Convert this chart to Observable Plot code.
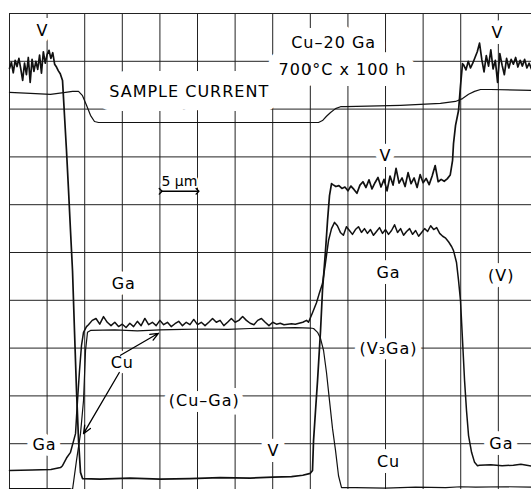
<!DOCTYPE html>
<html><head><meta charset="utf-8">
<script src="https://cdn.jsdelivr.net/npm/d3@7"></script>
<script src="https://cdn.jsdelivr.net/npm/@observablehq/plot@0.6"></script>
<style>html,body{margin:0;padding:0;background:#fff;} #chart{width:531px;height:489px;overflow:hidden}</style>
</head><body><div id="chart"></div>
<script>
// distance along scan (µm) and relative X-ray intensity (% of chart height)
const xGrid = [0,5,10,15,20,25,30,35,40,45,50,55,60,65];
const yGrid = [10,20,30,40,50,60,70,80,90,100];

const vProfile = [
 [0,88.5],[0.25,89.8],[0.5,87.6],[0.75,90.2],[1,88.9],[1.25,90.6],[1.5,88.4],[1.75,86.0],[2,89.6],[2.25,87.2],[2.5,90.8],[2.75,85.6],[3,90.4],[3.25,87.9],[3.5,90.0],[3.75,88.3],[4,91.3],[4.25,87.5],[4.5,92.0],[4.75,89.6],[5,91.4],[5.25,92.3],[5.5,90.6],[5.75,91.8],[6,89.4],[6.25,88.8],[6.5,88.0],[6.75,87.4],
 [7.05,86.0],[7.31,78.7],[7.58,71.3],[7.85,63.0],[8.11,54.6],[8.38,46.2],[8.64,33.7],[8.91,21.1],[9.18,10.7],[9.44,4.0],[9.71,2.7],
 [12,2.6],[16,2.8],[20,2.6],[24,2.7],[28,2.9],[32,2.8],[35,3.0],[37.5,3.1],[39,3.4],[40.0,3.8],
 [40.29,4.4],[40.43,10.7],[40.69,16.9],[40.96,23.2],[41.36,33.7],[41.62,42.1],[42.02,50.4],[42.29,56.7],[42.55,61.9],[42.82,64.4],
 [43.0,64.2],[43.4,63.8],[43.8,64.0],[44.2,63.4],[44.6,63.7],[45.0,62.9],[45.4,63.9],[45.8,63.2],[46.2,62.4],[46.6,64.1],[47.0,64.8],[47.4,63.6],[47.8,65.2],[48.2,63.3],[48.6,64.6],[49.0,65.7],[49.4,63.7],[49.8,65.3],[50.2,62.9],[50.6,66.0],[51.0,64.1],[51.4,67.6],[51.8,64.5],[52.2,65.6],[52.6,63.8],[53.0,66.7],[53.4,64.4],[53.8,65.6],[54.2,63.6],[54.6,66.3],[55.0,64.6],[55.4,65.5],[55.8,64.2],[56.2,66.0],[56.6,68.2],[57.0,64.8],[57.4,65.3],[57.8,64.9],[58.2,65.4],[58.6,66.2],
 [58.91,69.2],[59.04,72.8],[59.31,76.6],[59.71,79.7],[59.97,84.9],[60.24,89.5],
 [60.4,89.2],[60.7,88.2],[61.0,90.0],[61.3,88.6],[61.6,89.6],[61.9,90.8],[62.2,92.0],[62.5,93.8],[62.8,90.4],[63.1,87.8],[63.4,91.2],[63.7,89.0],[64.0,92.4],[64.3,88.4],[64.6,90.2],[64.9,85.6],[65.2,91.6],[65.5,89.2],[65.8,87.2],[66.1,90.6],[66.4,88.6],[66.7,90.4],[67.0,89.4],[67.3,90.8],[67.6,88.8],[67.9,90.2],[68.2,89.0],[68.5,90.4],[68.8,88.6],[69.1,89.6],[69.4,88.4]
];

const gaProfile = [
 [0,4.4],[3,4.5],[5.5,4.6],[6.78,5.0],[7.05,5.4],[7.58,7.0],[8.11,8.2],[8.78,12.1],[9.04,19.0],[9.31,25.3],[9.57,30.5],[9.84,33.3],[10.24,34.5],
 [10.5,34.9],[11.0,35.8],[11.5,36.2],[12.0,35.0],[12.5,36.6],[13.0,35.4],[13.5,34.7],[14.0,35.4],[14.5,34.5],[15.0,35.0],[15.5,34.3],[16.0,35.2],[16.5,34.5],[17.0,35.6],[17.5,34.7],[18.0,36.2],[18.5,34.9],[19.0,35.4],[19.5,34.7],[20.0,35.8],[20.5,34.9],[21.0,35.4],[21.5,34.5],[22.0,35.1],[22.5,35.6],[23.0,34.7],[23.5,35.4],[24.0,34.9],[24.5,36.0],[25.0,34.9],[25.5,35.4],[26.0,34.7],[26.5,35.4],[27.0,36.2],[27.5,35.4],[28.0,35.8],[28.5,34.7],[29.0,35.4],[29.5,36.2],[30.0,35.4],[30.5,35.8],[31.0,36.6],[31.5,35.8],[32.0,35.2],[32.5,34.9],[33.0,35.8],[33.5,36.2],[34.0,35.4],[34.5,34.7],[35.0,35.4],[35.5,35.0],[36.0,35.2],[36.5,34.9],[37.0,35.0],[37.5,35.1],[38.0,35.0],[38.5,35.2],[39.0,35.4],[39.5,35.8],
 [39.76,35.4],[40.29,37.4],[40.82,39.5],[41.22,41.6],[41.62,43.5],[42.02,47.9],[42.42,52.5],[42.82,55.0],[43.22,56.3],
 [43.6,55.6],[44.0,54.2],[44.4,53.6],[44.8,55.4],[45.2,54.6],[45.6,53.8],[46.0,54.8],[46.4,55.4],[46.8,54.2],[47.2,55.0],[47.6,54.0],[48.0,54.8],[48.4,53.6],[48.8,54.4],[49.2,55.2],[49.6,54.0],[50.0,54.8],[50.4,53.8],[50.8,54.6],[51.2,55.8],[51.6,54.2],[52.0,55.0],[52.4,53.6],[52.8,54.4],[53.2,55.0],[53.6,53.8],[54.0,54.6],[54.4,53.4],[54.8,54.2],[55.2,55.0],[55.6,54.4],[56.0,55.6],[56.4,54.8],[56.8,55.2],[57.2,54.0],[57.6,53.4],[58.0,53.0],[58.4,52.2],[58.8,51.2],
 [59.04,50.4],[59.44,47.9],[59.71,44.1],[59.97,39.9],[60.24,31.6],[60.51,23.2],[60.77,16.9],[61.04,11.7],[61.44,8.2],[61.84,6.1],[62.23,5.4],
 [62.5,5.5],[64,5.6],[65.5,5.4],[67,5.5],[68,5.7],[69.4,5.3]
];

const cuProfile = [
 [0,0.6],[8.0,0.6],[8.38,0.4],[8.91,6.5],[9.44,12.1],[9.84,19.0],[10.11,29.5],[10.37,33.3],[10.77,33.7],
 [14,33.8],[17,33.6],[20,33.8],[23,33.9],[26,34.0],[29,33.9],[32,34.1],[35,34.2],[38,34.3],[40.0,34.2],
 [40.43,34.1],[40.96,33.3],[41.36,32.0],[41.76,29.5],[42.15,24.9],[42.55,19.0],[42.95,13.2],[43.35,8.6],[43.75,3.3],[44.15,0.8],
 [46,0.8],[50,0.7],[54,0.9],[58,0.8],[60,1.0],[62,0.9],[66,1.0],[69.4,0.9]
];

const sampleCurrent = [
 [0,83.5],[2.79,83.3],[5.45,83.1],[7.45,83.5],[8.38,83.7],[9.18,83.7],[9.71,82.8],[10.24,80.8],[10.77,78.7],[11.30,77.4],[11.84,77.2],
 [25.4,77.2],[41.09,77.2],[41.62,77.6],[42.15,78.5],[42.69,79.3],[43.35,80.1],[44.02,80.5],[44.68,80.5],[52.0,80.8],[57.3,81.2],[59.3,81.6],
 [60.24,82.2],[61.04,83.1],[61.84,83.7],[62.63,84.1],[63.96,84.1],[69.4,83.9]
];

// annotation positions in data units
const boxLabels = [
 {x: 23.9, y: 83.7, text: "SAMPLE CURRENT", halo: 28},
 {x: 43.1, y: 93.9, text: "Cu–20 Ga", halo: 22},
 {x: 44.3, y: 88.3, text: "700°C x 100 h", halo: 22}
];
const phaseLabels = [
 {x: 4.39, y: 96.4, text: "V"},
 {x: 64.9, y: 96.0, text: "V"},
 {x: 50.0, y: 70.3, text: "V"},
 {x: 15.2, y: 43.5, text: "Ga"},
 {x: 50.4, y: 45.8, text: "Ga"},
 {x: 65.4, y: 45.2, text: "(V)"},
 {x: 15.0, y: 27.0, text: "Cu"},
 {x: 50.4, y: 29.9, text: "(V₃Ga)"},
 {x: 25.9, y: 19.0, text: "(Cu–Ga)"},
 {x: 4.65, y: 9.8, text: "Ga"},
 {x: 35.1, y: 8.4, text: "V"},
 {x: 50.4, y: 6.1, text: "Cu"},
 {x: 65.4, y: 10.0, text: "Ga"}
];
const scaleLabel = [{x: 22.6, y: 64.8, text: "5 µm"}];
const scaleBar = [{x1: 20.1, x2: 25.0, y: 62.8}];
const cuArrows = [
 {x1: 14.76, y1: 28.5, x2: 19.8, y2: 33.1},
 {x1: 14.6, y1: 24.9, x2: 9.84, y2: 12.1}
];

const chart = Plot.plot({
  width: 531, height: 489,
  marginLeft: 9, marginRight: 0, marginTop: 13, marginBottom: 0,
  x: {domain: [0, 69.41], axis: null},
  y: {domain: [0.42, 100], axis: null},
  style: {fontFamily: "DejaVu Sans", background: "white", color: "black"},
  marks: [
    Plot.ruleX(xGrid, {stroke: "#222", strokeWidth: 1}),
    Plot.ruleY(yGrid, {stroke: "#222", strokeWidth: 1}),
    Plot.text(boxLabels, {x: "x", y: "y", text: "text", fontSize: 16, fill: "black", stroke: "white", strokeWidth: d => d.halo, className: "wide"}),
    Plot.text(phaseLabels, {x: "x", y: "y", text: "text", fontSize: 16, fill: "black", stroke: "white", strokeWidth: 12, className: "wide"}),
    Plot.text(scaleLabel, {x: "x", y: "y", text: "text", fontSize: 14, fill: "black", stroke: "white", strokeWidth: 4}),
    Plot.link(scaleBar, {x1: "x1", x2: "x2", y1: "y", y2: "y", stroke: "black", strokeWidth: 1.4, markerStart: "arrow", markerEnd: "arrow"}),
    Plot.line(sampleCurrent, {stroke: "#111", strokeWidth: 1.2}),
    Plot.line(cuProfile, {stroke: "#111", strokeWidth: 1.2}),
    Plot.line(gaProfile, {stroke: "#111", strokeWidth: 1.5}),
    Plot.line(vProfile, {stroke: "#111", strokeWidth: 1.7}),
    Plot.arrow(cuArrows, {x1: "x1", y1: "y1", x2: "x2", y2: "y2", stroke: "black", strokeWidth: 1.3, headLength: 10, headAngle: 45})
  ]
});
d3.select(chart).selectAll("g.wide text").style("letter-spacing", "1px");
document.getElementById("chart").appendChild(chart);
</script>
</body></html>
